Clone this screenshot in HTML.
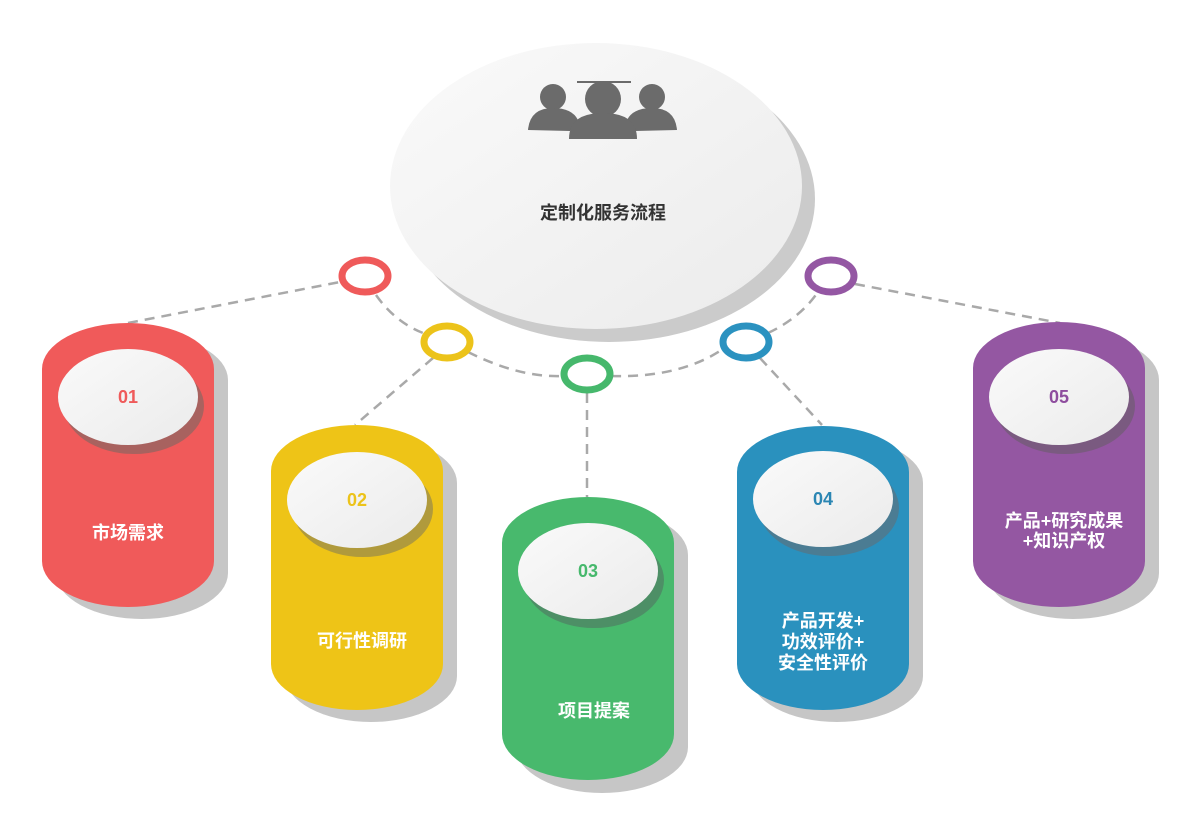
<!DOCTYPE html>
<html><head><meta charset="utf-8"><style>
html,body{margin:0;padding:0;background:#fff;}
svg{display:block}
text{font-family:"Liberation Sans","Noto Sans CJK SC",sans-serif;}
</style></head><body>
<svg width="1200" height="822" viewBox="0 0 1200 822" xmlns="http://www.w3.org/2000/svg">
<defs>
<linearGradient id="g" x1="0" y1="0" x2="1" y2="1"><stop offset="0" stop-color="#fafafa"/><stop offset="1" stop-color="#ebebeb"/></linearGradient>
</defs>
<g fill="none" stroke="#a9a9a9" stroke-width="2.5" stroke-dasharray="10 7">
<path d="M128 323 L340 282"/>
<path d="M376 295 Q395 322 423 333"/>
<path d="M468 352 Q520 378 563 376"/>
<path d="M611 376 Q680 378 723 349"/>
<path d="M768 333 Q800 318 818 292"/>
<path d="M855 284 L1060 323"/>
<path d="M433 358 L355 425"/>
<path d="M587 393 L587 497"/>
<path d="M760 358 L822 425"/>
</g>
<ellipse cx="609" cy="199" rx="206" ry="143" fill="#cbcbcb"/>
<ellipse cx="596" cy="186" rx="206" ry="143" fill="url(#g)"/>
<g fill="#6b6b6b">
<rect x="577" y="81" width="54" height="2"/>
<circle cx="553" cy="97" r="13"/>
<path d="M528 130 Q530 108 553 108 Q572 108 578 120 L570 131 Z"/>
<circle cx="652" cy="97" r="13"/>
<path d="M677 130 Q675 108 652 108 Q633 108 627 120 L635 131 Z"/>
<circle cx="603" cy="99" r="18"/>
<path d="M569 139 Q569 113 603 113 Q637 113 637 139 Z"/>
</g>
<text x="603" y="219" font-size="18" font-weight="bold" fill="#333" text-anchor="middle">定制化服务流程</text>
<g fill="none" stroke-width="7">
<ellipse cx="365" cy="276" rx="23" ry="16" stroke="#ef5a5a"/>
<ellipse cx="447" cy="342" rx="23" ry="16" stroke="#ecc31a"/>
<ellipse cx="587" cy="374" rx="23" ry="16" stroke="#46b86c"/>
<ellipse cx="746" cy="342" rx="23" ry="16" stroke="#2b92c0"/>
<ellipse cx="831" cy="276" rx="23" ry="16" stroke="#9457a3"/>
</g>
<g>
<rect x="56" y="334" width="172" height="285" rx="86" ry="46" fill="#c6c6c6"/>
<rect x="42" y="323" width="172" height="284" rx="86" ry="46" fill="#f05a5a"/>
<ellipse cx="134" cy="406" rx="70" ry="48" fill="#a8625f"/>
<ellipse cx="128" cy="397" rx="70" ry="48" fill="url(#g)"/>
<text x="128" y="403" font-size="18" font-weight="bold" fill="#ef5a5a" text-anchor="middle">01</text>
<text x="128" y="539" font-size="18" font-weight="bold" fill="#fff" text-anchor="middle">市场需求</text>

<rect x="285" y="437" width="172" height="285" rx="86" ry="46" fill="#c6c6c6"/>
<rect x="271" y="425" width="172" height="285" rx="86" ry="46" fill="#eec417"/>
<ellipse cx="363" cy="509" rx="70" ry="48" fill="#b09a3c"/>
<ellipse cx="357" cy="500" rx="70" ry="48" fill="url(#g)"/>
<text x="357" y="506" font-size="18" font-weight="bold" fill="#ecc31a" text-anchor="middle">02</text>
<text x="362" y="647" font-size="18" font-weight="bold" fill="#fff" text-anchor="middle">可行性调研</text>

<rect x="516" y="509" width="172" height="284" rx="86" ry="46" fill="#c6c6c6"/>
<rect x="502" y="497" width="172" height="283" rx="86" ry="46" fill="#48b96d"/>
<ellipse cx="594" cy="580" rx="70" ry="48" fill="#4d8f66"/>
<ellipse cx="588" cy="571" rx="70" ry="48" fill="url(#g)"/>
<text x="588" y="577" font-size="18" font-weight="bold" fill="#46b86c" text-anchor="middle">03</text>
<text x="594" y="717" font-size="18" font-weight="bold" fill="#fff" text-anchor="middle">项目提案</text>

<rect x="751" y="437" width="172" height="285" rx="86" ry="46" fill="#c6c6c6"/>
<rect x="737" y="426" width="172" height="284" rx="86" ry="46" fill="#2a91be"/>
<ellipse cx="829" cy="508" rx="70" ry="48" fill="#4b7c93"/>
<ellipse cx="823" cy="499" rx="70" ry="48" fill="url(#g)"/>
<text x="823" y="505" font-size="18" font-weight="bold" fill="#2b86b3" text-anchor="middle">04</text>
<text x="823" y="627" font-size="18" font-weight="bold" fill="#fff" text-anchor="middle">产品开发+</text>
<text x="823" y="648" font-size="18" font-weight="bold" fill="#fff" text-anchor="middle">功效评价+</text>
<text x="823" y="669" font-size="18" font-weight="bold" fill="#fff" text-anchor="middle">安全性评价</text>

<rect x="987" y="334" width="172" height="285" rx="86" ry="46" fill="#c6c6c6"/>
<rect x="973" y="322" width="172" height="285" rx="86" ry="46" fill="#9457a2"/>
<ellipse cx="1065" cy="406" rx="70" ry="48" fill="#7a5a80"/>
<ellipse cx="1059" cy="397" rx="70" ry="48" fill="url(#g)"/>
<text x="1059" y="403" font-size="18" font-weight="bold" fill="#8e4d9e" text-anchor="middle">05</text>
<text x="1064" y="527" font-size="18" font-weight="bold" fill="#fff" text-anchor="middle">产品+研究成果</text>
<text x="1064" y="547" font-size="18" font-weight="bold" fill="#fff" text-anchor="middle">+知识产权</text>
</g>
</svg>
</body></html>
